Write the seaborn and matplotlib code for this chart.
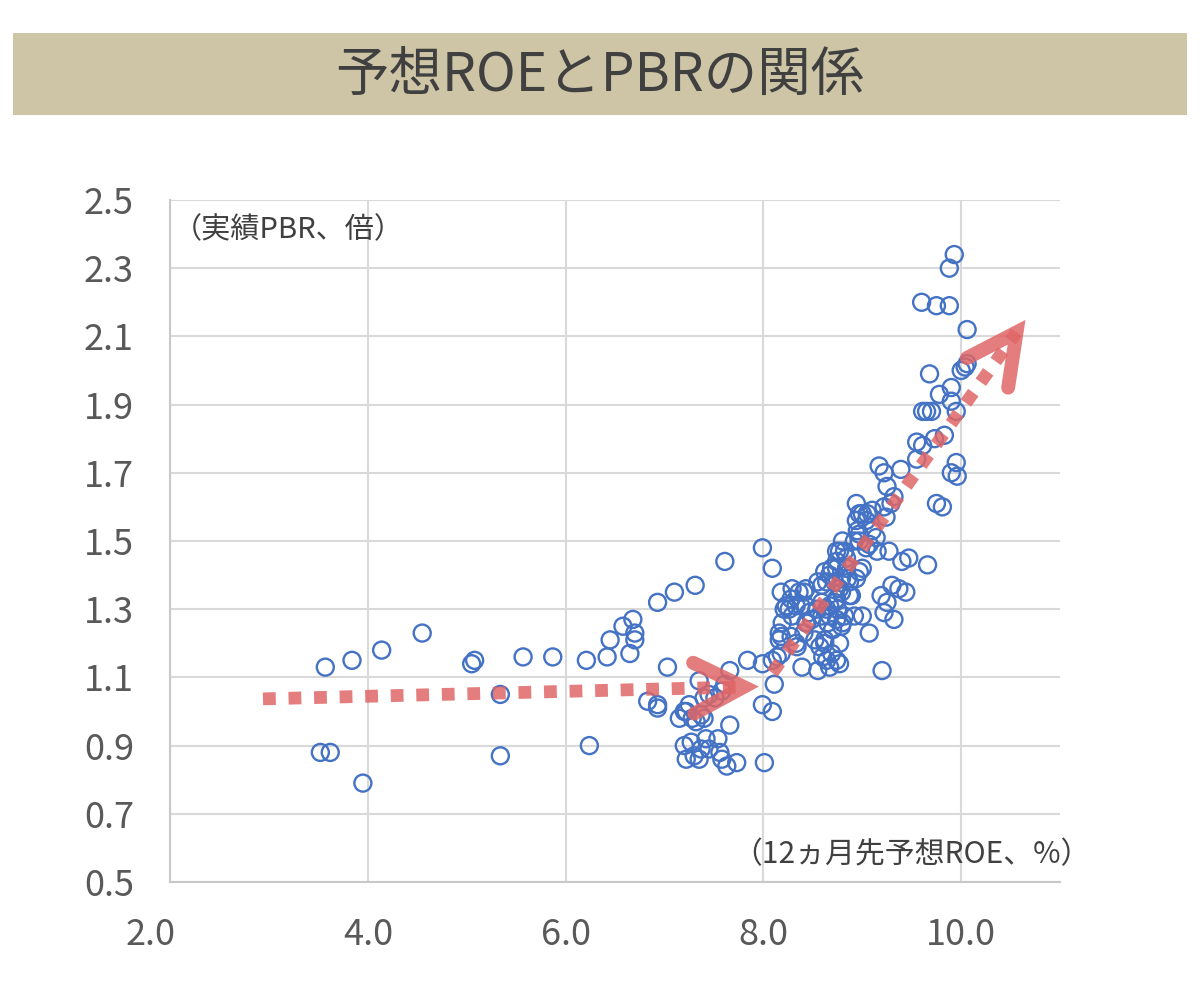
import numpy as np
import pandas as pd
import seaborn as sns
import matplotlib.pyplot as plt
from matplotlib.patches import Rectangle
from matplotlib.transforms import ScaledTranslation

# 予想ROE(%) と 実績PBR(倍) -- 図から読み取った値
roe_low = [3.57, 3.52, 3.62, 3.84, 3.95, 4.14, 4.55, 5.05, 5.08, 5.34, 5.34, 5.57, 5.87,
           6.21, 6.24, 6.42, 6.45, 6.58, 6.68, 6.70, 6.70, 6.65, 6.93, 7.10, 7.31, 7.61,
           7.03, 6.83, 6.93, 6.93]
pbr_low = [1.13, 0.88, 0.88, 1.15, 0.79, 1.18, 1.23, 1.14, 1.15, 1.05, 0.87, 1.16, 1.16,
           1.15, 0.90, 1.16, 1.21, 1.25, 1.27, 1.23, 1.21, 1.17, 1.32, 1.35, 1.37, 1.44,
           1.13, 1.03, 1.02, 1.01]

roe_mid = [7.99, 8.09, 7.66, 7.84, 7.99, 8.09, 8.14, 8.18, 8.11, 7.99, 8.09, 8.01, 7.35,
           7.61, 7.58, 7.51, 7.45, 7.40, 7.25, 7.20, 7.15, 7.28, 7.37, 7.40, 7.32, 7.22,
           7.66, 7.20, 7.27, 7.42, 7.54, 7.22, 7.30, 7.35, 7.37, 7.45, 7.56, 7.58, 7.63,
           7.73, 8.39]
pbr_mid = [1.48, 1.42, 1.12, 1.15, 1.14, 1.15, 1.16, 1.17, 1.08, 1.02, 1.00, 0.85, 1.09,
           1.08, 1.06, 1.04, 1.05, 1.04, 1.02, 1.00, 0.98, 0.98, 0.99, 0.98, 0.97, 1.00,
           0.96, 0.90, 0.91, 0.92, 0.92, 0.86, 0.87, 0.86, 0.89, 0.89, 0.88, 0.86, 0.84,
           0.85, 1.13]

roe_core = [8.80, 8.97, 9.10, 8.94, 9.04, 9.14, 9.15, 9.27, 9.40, 9.47, 8.82, 8.84, 8.77,
            8.74, 8.67, 8.62, 8.64, 8.59, 8.84, 8.97, 8.94, 8.87, 8.79, 8.89, 8.77, 8.74,
            8.72, 8.29, 8.36, 8.41, 8.28, 8.23, 8.26, 8.29, 8.21, 8.33, 8.43, 8.46, 8.54,
            8.49, 8.43, 8.59, 8.64, 8.67, 8.74, 8.80, 9.19, 9.30, 9.37, 9.44, 9.25, 9.22,
            9.32, 9.00, 8.92, 9.07, 8.16, 8.16, 8.28, 8.33, 8.52, 8.57, 8.62, 8.77, 8.60,
            8.64, 8.69, 8.74, 8.55, 8.67, 8.77, 9.20,
            8.18, 8.43, 8.55, 8.69, 8.85, 8.72, 8.79, 8.87, 8.38, 8.59, 8.67, 8.75, 8.82,
            8.19, 8.44, 8.65, 8.70, 8.79, 8.18, 8.41, 8.62, 8.34, 9.00, 9.29, 8.95, 8.92,
            8.74, 9.04, 9.00, 8.74]
pbr_core = [1.50, 1.52, 1.53, 1.56, 1.56, 1.51, 1.47, 1.47, 1.44, 1.45, 1.47, 1.45, 1.47,
            1.42, 1.40, 1.41, 1.38, 1.37, 1.42, 1.41, 1.39, 1.38, 1.39, 1.34, 1.36, 1.33,
            1.32, 1.36, 1.35, 1.35, 1.33, 1.31, 1.30, 1.28, 1.30, 1.31, 1.31, 1.29, 1.30,
            1.27, 1.26, 1.28, 1.30, 1.28, 1.27, 1.26, 1.34, 1.37, 1.36, 1.35, 1.32, 1.29,
            1.27, 1.28, 1.28, 1.23, 1.23, 1.21, 1.22, 1.20, 1.21, 1.19, 1.20, 1.20, 1.16,
            1.15, 1.17, 1.15, 1.12, 1.13, 1.14, 1.12,
            1.35, 1.36, 1.38, 1.42, 1.39, 1.38, 1.35, 1.34, 1.31, 1.32, 1.31, 1.30, 1.28,
            1.26, 1.26, 1.26, 1.24, 1.25, 1.22, 1.23, 1.21, 1.19, 1.58, 1.61, 1.53, 1.50,
            1.47, 1.48, 1.42, 1.44]

roe_high = [9.93, 9.88, 9.60, 9.75, 9.88, 10.06, 9.68, 10.06, 10.04, 10.00, 9.90, 9.78,
            9.90, 9.95, 9.61, 9.65, 9.70, 9.55, 9.61, 9.73, 9.83, 9.17, 9.22, 9.39, 9.55,
            9.95, 9.90, 9.96, 9.25, 9.32, 9.22, 8.94, 8.97, 9.05, 9.10, 9.24, 9.75, 9.81,
            9.66, 8.97, 9.07]
pbr_high = [2.34, 2.30, 2.20, 2.19, 2.19, 2.12, 1.99, 2.02, 2.01, 2.00, 1.95, 1.93,
            1.91, 1.88, 1.88, 1.88, 1.88, 1.79, 1.78, 1.80, 1.81, 1.72, 1.70, 1.71, 1.74,
            1.73, 1.70, 1.69, 1.66, 1.63, 1.60, 1.61, 1.58, 1.58, 1.59, 1.57, 1.61, 1.60,
            1.43, 1.50, 1.49]

# 傾向を示す矢印 (始点, 先端)
flat_x = [2.94, 7.80]
flat_y = [1.037, 1.072]
up_x = [8.09, 10.56]
up_y = [1.113, 2.112]

x_ticks = [2.0, 4.0, 6.0, 8.0, 10.0]
y_ticks = [0.5, 0.7, 0.9, 1.1, 1.3, 1.5, 1.7, 1.9, 2.1, 2.3, 2.5]
title = "予想ROEとPBRの関係"
y_note = "（実績PBR、倍）"
x_note = "（12ヵ月先予想ROE、%）"

blue = "#4472C4"
red = "#E06666"

df = pd.DataFrame({
    "roe": roe_low + roe_mid + roe_core + roe_high,
    "pbr": pbr_low + pbr_mid + pbr_core + pbr_high,
})

sns.set_theme(style="whitegrid")
plt.rcParams["font.family"] = ["Noto Sans CJK JP", "DejaVu Sans"]

fig = plt.figure(figsize=(12, 9.9), dpi=100)
ax = fig.add_axes([0.1417, 0.1091, 0.7417, 0.6889])

sns.scatterplot(data=df, x="roe", y="pbr", ax=ax, marker="o", s=150,
                color=blue, facecolor="none", edgecolor=blue, linewidth=1.7,
                zorder=3)

ax.set_xlim(2.0, 11.0)
ax.set_ylim(0.5, 2.5)
ax.set_xticks(x_ticks)
ax.set_yticks(y_ticks)
ax.set_xticklabels([f"{v:.1f}" for v in x_ticks])
ax.set_yticklabels([f"{v:.1f}" for v in y_ticks])
ax.set_xlabel("")
ax.set_ylabel("")
ax.tick_params(axis="both", length=0, labelsize=26, labelcolor="#595959")
ax.tick_params(axis="x", pad=25)
ax.tick_params(axis="y", pad=26)
# 先頭の目盛りラベルは左へずらす
first = ax.get_xticklabels()[0]
first.set_transform(first.get_transform() + ScaledTranslation(-0.2, 0, fig.dpi_scale_trans))
ax.grid(True, color="#D9D9D9", linewidth=1.5)
ax.set_axisbelow(True)
for side in ["top", "right"]:
    ax.spines[side].set_visible(False)
for side in ["left", "bottom"]:
    ax.spines[side].set_color("#C8C8C8")
    ax.spines[side].set_linewidth(1.5)


def arrow(xs, ys, length=56, angle=27):
    # 点線の軸
    ax.plot(xs, ys, color=red, lw=9.2, linestyle=(0, (1, 1)),
            dash_capstyle="butt", alpha=0.85, zorder=4)
    # 開いた矢じり (ピクセル空間で計算)
    p0 = ax.transData.transform((xs[0], ys[0]))
    p1 = ax.transData.transform((xs[-1], ys[-1]))
    d = (p0 - p1) / np.hypot(*(p0 - p1))
    arms = []
    for a in (angle, -angle):
        r = np.radians(a)
        v = np.array([d[0] * np.cos(r) - d[1] * np.sin(r),
                      d[0] * np.sin(r) + d[1] * np.cos(r)])
        arms.append(p1 + v * length)
    pts = ax.transData.inverted().transform(np.array([arms[0], p1, arms[1]]))
    ax.plot(pts[:, 0], pts[:, 1], color=red, lw=10, alpha=0.85,
            solid_capstyle="round", solid_joinstyle="miter", zorder=4)


arrow(flat_x, flat_y)
arrow(up_x, up_y)

ax.text(0.003, 0.956, y_note, transform=ax.transAxes, fontsize=21,
        color="#404040", ha="left", va="center")
ax.text(1.034, 0.040, x_note, transform=ax.transAxes, fontsize=21.5,
        color="#404040", ha="right", va="center")

# タイトル帯
fig.patches.append(Rectangle((0.0108, 0.8838), 0.9784, 0.0829,
                             transform=fig.transFigure, facecolor="#CDC5A6",
                             edgecolor="none", zorder=0))
fig.text(0.5, 0.924, title, fontsize=38.5, color="#404040",
         ha="center", va="center")

fig.savefig("out.png", dpi=100)
